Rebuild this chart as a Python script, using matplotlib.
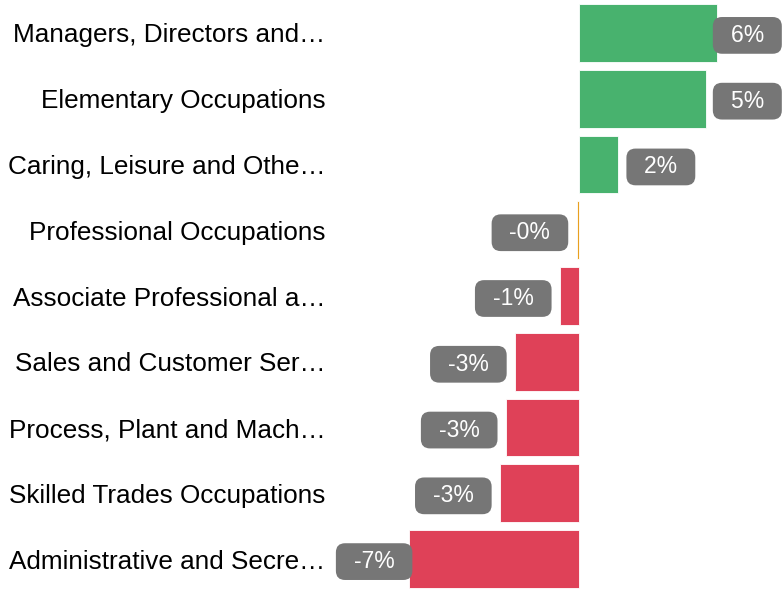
import matplotlib.pyplot as plt

# occupation groups, top to bottom
categories = [
    "Managers, Directors and\u2026",
    "Elementary Occupations",
    "Caring, Leisure and Othe\u2026",
    "Professional Occupations",
    "Associate Professional a\u2026",
    "Sales and Customer Ser\u2026",
    "Process, Plant and Mach\u2026",
    "Skilled Trades Occupations",
    "Administrative and Secre\u2026",
]
change_pct = [5.86, 5.39, 1.66, -0.1, -0.81, -2.72, -3.11, -3.36, -7.23]

GREEN = "#48b26e"
RED = "#df4158"
ORANGE = "#e9a01f"
GREY = "#767676"

plt.rcParams['font.family'] = ['Liberation Sans', 'DejaVu Sans']

fig = plt.figure(figsize=(7.82, 5.92), dpi=100)
ax = fig.add_axes([335 / 782, 0, 1 - 335 / 782, 1])

colors = []
for v in change_pct:
    if abs(v) < 0.5:
        colors.append(ORANGE)
    elif v > 0:
        colors.append(GREEN)
    else:
        colors.append(RED)

y = list(range(len(categories)))
ax.barh(y, change_pct, height=0.88, color=colors, edgecolor="white", linewidth=0.6)

xmin, xmax = -(579 - 335) / 23.5, (782 - 579) / 23.5
ax.set_xlim(xmin, xmax)
ax.set_ylim(len(categories) - 0.5, -0.5)

ax.set_yticks(y)
ax.set_yticklabels(categories, fontsize=18.8)
ax.tick_params(axis="y", length=0, pad=7)
ax.set_xticks([])
for s in ax.spines.values():
    s.set_visible(False)

# value labels in grey rounded boxes, kept inside the figure
gap = 0.65
box_w = 3.2
sp = " \u2009"
for i, v in enumerate(change_pct):
    label = f"{v:.0f}%"
    if v >= 0:
        x, ha = v + gap, "left"
        if x + box_w > xmax:
            x, ha = xmax - 0.3, "right"
    else:
        x, ha = v - gap, "right"
        if x - box_w < xmin:
            x, ha = xmin + 0.33, "left"
    ax.text(x, i, sp + label + sp, ha=ha, va="center_baseline", color="white", fontsize=16.5,
            bbox=dict(boxstyle="round,pad=0.3,rounding_size=0.4", fc=GREY, ec="none"))

fig.savefig("out.png", dpi=100)
